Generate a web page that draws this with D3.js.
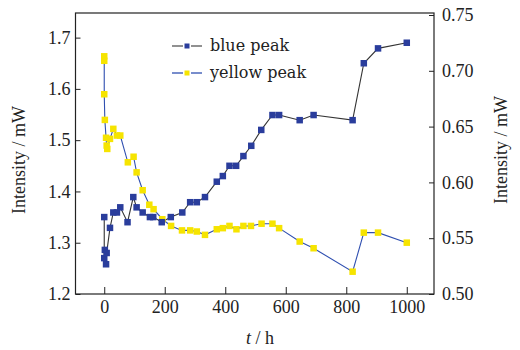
<!DOCTYPE html>
<html>
<head>
<meta charset="utf-8">
<script src="https://cdn.jsdelivr.net/npm/d3@7/dist/d3.min.js"></script>
<style>
  html, body { margin: 0; padding: 0; background: #fff; }
  svg { display: block; }
  .tick text { font-family: "Liberation Serif", "Times New Roman", serif; font-size: 18px; fill: #222; }
  .tick line { stroke: #222; stroke-width: 1; }
</style>
</head>
<body>
<svg id="chart" width="520" height="350"></svg>
<script>
// ---- data ----
const blueTime = [0, 0, 2, 6, 8, 19, 30, 42, 53, 77, 96, 107, 127, 151, 162, 190, 220, 258, 284, 306, 333, 372, 392, 414, 436, 460, 486, 519, 556, 578, 646, 692, 821, 858, 905, 1000];
const blueValue = [1.350, 1.270, 1.286, 1.258, 1.280, 1.329, 1.359, 1.359, 1.369, 1.340, 1.389, 1.369, 1.359, 1.350, 1.350, 1.340, 1.350, 1.359, 1.379, 1.379, 1.389, 1.419, 1.430, 1.450, 1.450, 1.469, 1.489, 1.520, 1.549, 1.549, 1.539, 1.549, 1.539, 1.650, 1.679, 1.690];

const yellowTime = [0, 0, 0, 2, 6, 8, 10, 19, 30, 42, 53, 78, 97, 107, 127, 149, 163, 192, 221, 257, 284, 306, 333, 372, 392, 414, 437, 460, 485, 520, 556, 578, 646, 692, 821, 858, 905, 1000];
const yellowValue = [0.713, 0.709, 0.679, 0.656, 0.640, 0.633, 0.630, 0.639, 0.648, 0.642, 0.642, 0.618, 0.623, 0.609, 0.593, 0.580, 0.576, 0.567, 0.561, 0.557, 0.557, 0.556, 0.553, 0.558, 0.559, 0.561, 0.558, 0.561, 0.561, 0.563, 0.563, 0.559, 0.547, 0.541, 0.520, 0.555, 0.555, 0.546];

const xTicks = [0, 200, 400, 600, 800, 1000];
const leftTicks = [1.2, 1.3, 1.4, 1.5, 1.6, 1.7];
const rightTicks = [0.50, 0.55, 0.60, 0.65, 0.70, 0.75];
const seriesNames = ["blue peak", "yellow peak"];

// ---- layout ----
const L = 75.5, R = 434, T = 13, B = 294;
const svg = d3.select("#chart");

const x = d3.scaleLinear().domain([-95, 1090]).range([L, R]);
const yL = d3.scaleLinear().domain([1.2, 1.748]).range([B, T]);
const yR = d3.scaleLinear().domain([0.5, 0.7518]).range([B, T]);

const blueMark = "#2a3d9c";
const yellowMark = "#f6e400";
const blueLine = "#333333";
const yellowLine = "#2f4fb0";

// axes
const gx = svg.append("g").attr("transform", `translate(0,${B})`)
  .call(d3.axisBottom(x).tickValues(xTicks).tickSize(-7).tickPadding(6).tickFormat(d3.format("d")));
const gl = svg.append("g").attr("transform", `translate(${L},0)`)
  .call(d3.axisLeft(yL).tickValues(leftTicks).tickSize(-5).tickPadding(5).tickFormat(d3.format(".1f")));
const gr = svg.append("g").attr("transform", `translate(${R},0)`)
  .call(d3.axisRight(yR).tickValues(rightTicks).tickSize(-5).tickPadding(8).tickFormat(d3.format(".2f")));
[gx, gl, gr].forEach(g => g.select(".domain").remove());

// frame
svg.append("rect").attr("x", L).attr("y", T).attr("width", R - L).attr("height", B - T)
  .attr("fill", "none").attr("stroke", "#222").attr("stroke-width", 1.2);

// series
const blueData = blueTime.map((t, i) => [t, blueValue[i]]);
const yellowData = yellowTime.map((t, i) => [t, yellowValue[i]]);
const ms = 6.5;

svg.append("path").datum(yellowData)
  .attr("fill", "none").attr("stroke", yellowLine).attr("stroke-width", 1.1)
  .attr("d", d3.line().x(d => x(d[0])).y(d => yR(d[1])));
svg.append("path").datum(blueData)
  .attr("fill", "none").attr("stroke", blueLine).attr("stroke-width", 1.1)
  .attr("d", d3.line().x(d => x(d[0])).y(d => yL(d[1])));

svg.append("g").selectAll("rect").data(yellowData).join("rect")
  .attr("x", d => x(d[0]) - ms / 2).attr("y", d => yR(d[1]) - ms / 2)
  .attr("width", ms).attr("height", ms).attr("fill", yellowMark);
svg.append("g").selectAll("rect").data(blueData).join("rect")
  .attr("x", d => x(d[0]) - ms / 2).attr("y", d => yL(d[1]) - ms / 2)
  .attr("width", ms).attr("height", ms).attr("fill", blueMark);

// legend
const legend = [
  { name: seriesNames[0], line: "#555", mark: blueMark, y: 46 },
  { name: seriesNames[1], line: yellowLine, mark: yellowMark, y: 73 }
];
legend.forEach(e => {
  const g = svg.append("g");
  g.append("line").attr("x1", 172).attr("x2", 183).attr("y1", e.y).attr("y2", e.y).attr("stroke", e.line).attr("stroke-width", 1.3);
  g.append("line").attr("x1", 191).attr("x2", 202).attr("y1", e.y).attr("y2", e.y).attr("stroke", e.line).attr("stroke-width", 1.3);
  g.append("rect").attr("x", 184.5).attr("y", e.y - 2.5).attr("width", 5).attr("height", 5).attr("fill", e.mark);
  g.append("text").attr("x", 210).attr("y", e.y + 5)
    .attr("font-family", "DejaVu Serif, serif").attr("font-size", 16).attr("fill", "#222")
    .text(e.name);
});

// axis titles
const titleFont = "Liberation Serif, Times New Roman, serif";
svg.append("text").attr("transform", "translate(25,160) rotate(-90)")
  .attr("text-anchor", "middle").attr("font-family", titleFont).attr("font-size", 18).attr("fill", "#222")
  .text("Intensity / mW");
svg.append("text").attr("transform", "translate(507,150) rotate(-90)")
  .attr("text-anchor", "middle").attr("font-family", titleFont).attr("font-size", 18).attr("fill", "#222")
  .text("Intensity / mW");
const xt = svg.append("text").attr("x", 260).attr("y", 344)
  .attr("text-anchor", "middle").attr("font-family", titleFont).attr("font-size", 18).attr("fill", "#222");
xt.append("tspan").attr("font-style", "italic").text("t");
xt.append("tspan").text(" / h");
</script>
</body>
</html>
